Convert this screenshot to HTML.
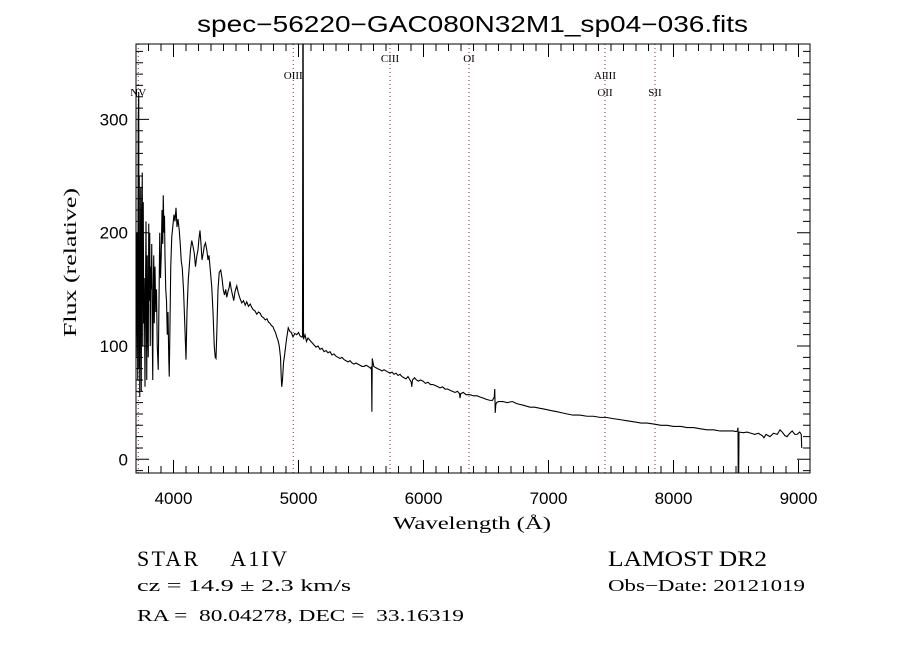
<!DOCTYPE html>
<html><head><meta charset="utf-8"><title>spec-56220-GAC080N32M1_sp04-036.fits</title>
<style>html,body{margin:0;padding:0;background:#fff;}svg{display:block;}</style></head>
<body>
<svg id="chart" width="900" height="650" viewBox="0 0 900 650" xmlns="http://www.w3.org/2000/svg">
<rect x="0" y="0" width="900" height="650" fill="#fff"/>
<defs><clipPath id="plotclip"><rect x="136" y="44" width="674" height="429"/></clipPath></defs>
<text x="197" y="32" font-family="Liberation Sans, sans-serif" font-size="23" textLength="551" lengthAdjust="spacingAndGlyphs">spec−56220−GAC080N32M1_sp04−036.fits</text>
<g id="lines"></g>
<g id="ticks"></g>
<path id="spec" fill="none" stroke="#000" stroke-width="1.1" stroke-linejoin="miter" clip-path="url(#plotclip)"/>
<rect x="136" y="44" width="674" height="429" fill="none" stroke="#000" stroke-width="1"/>
<g id="xlabels"></g>
<g id="ylabels"></g>
<text x="393" y="529" font-family="Liberation Serif, serif" font-size="18" textLength="158" lengthAdjust="spacingAndGlyphs">Wavelength (Å)</text>
<text transform="translate(76,337) rotate(-90)" font-family="Liberation Serif, serif" font-size="18" textLength="149" lengthAdjust="spacingAndGlyphs">Flux (relative)</text>
<text x="137" y="566" font-family="Liberation Serif, serif" font-size="22" textLength="150" lengthAdjust="spacing" xml:space="preserve">STAR    A1IV</text>
<text x="608" y="566" font-family="Liberation Serif, serif" font-size="22" textLength="159" lengthAdjust="spacingAndGlyphs">LAMOST DR2</text>
<text x="137" y="591" font-family="Liberation Serif, serif" font-size="17" textLength="214" lengthAdjust="spacingAndGlyphs">cz = 14.9 ± 2.3 km/s</text>
<text x="608" y="591" font-family="Liberation Serif, serif" font-size="17" textLength="197" lengthAdjust="spacingAndGlyphs">Obs−Date: 20121019</text>
<text x="137" y="621" font-family="Liberation Serif, serif" font-size="17" textLength="327" lengthAdjust="spacingAndGlyphs" xml:space="preserve">RA =  80.04278, DEC =  33.16319</text>
</svg>
<script>
const wavelengths = [
3702,3708,3714,3718,3722,3724,3726,3730,3734,3738,
3742,3746,3750,3754,3758,3762,3766,3772,3776,3780,
3786,3790,3794,3798,3802,3806,3810,3814,3818,3822,
3826,3830,3834,3838,3842,3846,3852,3858,3864,3870,
3878,3884,3890,3896,3902,3908,3914,3918,3924,3928,
3932,3938,3944,3950,3956,3962,3966,3972,3978,3986,
3994,4004,4012,4020,4028,4036,4046,4054,4062,4070,
4080,4090,4100,4108,4118,4126,4136,4146,4156,4166,
4176,4186,4196,4204,4212,4220,4228,4238,4246,4256,
4266,4276,4284,4292,4300,4306,4316,4326,4334,4340,
4346,4356,4366,4378,4388,4398,4408,4418,4426,4436,
4446,4452,4462,4472,4482,4492,4506,4518,4532,4546,
4560,4574,4586,4600,4614,4626,4638,4652,4666,4680,
4692,4706,4720,4734,4748,4760,4772,4784,4796,4806,
4816,4826,4836,4846,4856,4862,4866,4872,4880,4892,
4904,4918,4930,4942,4956,4970,4986,5000,5012,5024,
5032,5035,5037,5040,5052,5064,5076,5092,5108,5124,
5140,5156,5172,5188,5204,5220,5236,5252,5268,5284,
5300,5316,5332,5348,5364,5380,5396,5412,5428,5444,
5460,5476,5492,5508,5524,5540,5556,5570,5580,5584,
5587,5590,5602,5616,5632,5652,5668,5684,5700,5716,
5732,5748,5764,5780,5796,5812,5828,5844,5860,5876,
5892,5902,5906,5912,5928,5944,5960,5976,5996,6016,
6036,6056,6076,6096,6116,6132,6152,6172,6192,6212,
6232,6252,6272,6288,6292,6298,6318,6340,6372,6400,
6430,6452,6480,6500,6532,6552,6566,6570,6574,6578,
6584,6600,6636,6670,6710,6748,6790,6852,6890,6932,
6980,7020,7068,7110,7150,7196,7250,7308,7360,7412,
7460,7510,7572,7630,7690,7740,7788,7850,7900,7948,
8000,8060,8108,8160,8210,8268,8320,8372,8420,8476,
8500,8512,8516,8518,8521,8524,8560,8588,8620,8650,
8680,8692,8710,8724,8740,8772,8800,8830,8852,8870,
8890,8908,8930,8950,8970,8988,9010,9022,9026
];
const fluxes = [
90,200,70,300,324,80,250,55,140,240,
60,200,253,100,227,120,160,64,150,210,
70,180,120,90,208,140,200,100,170,150,
190,110,70,150,180,120,170,130,150,100,
79,140,200,160,180,220,190,233,200,215,
179,150,140,110,130,90,73,120,170,196,
205,216,210,222,205,212,202,190,175,169,
150,120,88,130,158,170,185,193,188,182,
170,179,185,195,202,190,176,182,188,191,
185,176,180,170,160,152,130,100,90,89,
110,150,165,167,160,150,145,150,143,148,
152,157,150,145,140,148,153,147,142,138,
140,136,139,135,137,134,132,131,128,130,
129,126,125,123,124,121,120,118,117,114,
112,108,105,100,90,72,64,70,85,95,
106,116,113,112,108,111,110,112,109,108,
108,400,400,106,110,104,107,105,103,101,
99,100,97,98,95,96,94,95,92,93,
91,90,89,90,88,87,86,87,85,84,
85,84,83,82,82,83,82,81,80,82,
42,89,82,81,80,79,78,79,78,77,
76,77,75,76,74,75,73,72,71,73,
70,68,64,70,72,70,69,70,69,67,
68,66,66,65,64,63,64,62,62,61,
60,59,60,58,54,58,59,57,57,56,
56,55,54,53,52,52,55,62,41,48,
50,51,51,50,51,49,48,46,46,45,
44,43,42,41,40,39,39,38,38,37,
37,36,35,34,33,32,32,31,30,30,
29,29,28,28,27,26,26,25,25,25,
24.5,25,28,-20,-20,24,23.5,24,23,22,
23,22,21,19,22,20,23,22,26,24,
21,20,23,25,22,22,24,22,10
];
const xTickValues = [4000,5000,6000,7000,8000,9000];
const xTickLabels = ["4000","5000","6000","7000","8000","9000"];
const yTickValues = [0,100,200,300];
const yTickLabels = ["0","100","200","300"];
const lineNames = ["NV","OIII","CIII","OI","AlIII","OII","SII"];
const lineWaves = [3718,4958,5732,6364,7452,7452,7852];
const labelRow = [2,1,0,0,1,2,2];

const NS = "http://www.w3.org/2000/svg";
const X0=136, X1=810, Y0=44, Y1=473;
function xScale(w){ return 173.5 + (w-4000)*0.125; }
function yScale(f){ return 459.3 - f*1.133; }
function mk(tag, attrs, parent){ const e=document.createElementNS(NS,tag); for(const k in attrs) e.setAttribute(k, attrs[k]); parent.appendChild(e); return e; }

let d="";
const n=Math.min(wavelengths.length, fluxes.length);
for(let i=0;i<n;i++){
  d += (i?"L":"M") + xScale(wavelengths[i]).toFixed(2) + " " + yScale(fluxes[i]).toFixed(2) + " ";
}
document.getElementById("spec").setAttribute("d", d);

const tg=document.getElementById("ticks");
let td="";
for(let w=3700; w<=9100; w+=100){
  const x=xScale(w); if(x<X0||x>X1) continue;
  const len = (w%1000===0)?13:7;
  td += `M${x} ${Y1}V${Y1-len}M${x} ${Y0}V${Y0+len}`;
}
for(let f=-10; f<=360; f+=10){
  const y=yScale(f); if(y<Y0||y>Y1) continue;
  const len = (f%100===0)?13:7;
  td += `M${X0} ${y}H${X0+len}M${X1} ${y}H${X1-len}`;
}
const tp=mk("path",{d:td,stroke:"#000","stroke-width":1,fill:"none"},tg);



const xl=document.getElementById("xlabels");
xTickValues.forEach((v,i)=>{
  const t=mk("text",{x:xScale(v),y:504,"text-anchor":"middle","font-family":"Liberation Sans, sans-serif","font-size":17},xl);
  t.textContent=xTickLabels[i];
  
  
});
const yl=document.getElementById("ylabels");
yTickValues.forEach((v,i)=>{
  const t=mk("text",{x:128,y:yScale(v)+6,"text-anchor":"end","font-family":"Liberation Sans, sans-serif","font-size":17},yl);
  t.textContent=yTickLabels[i];
  
  
});

const lg=document.getElementById("lines");
const rowY=[62,79,96];
lineNames.forEach((nm,i)=>{
  const x=xScale(lineWaves[i]);
  const l=mk("line",{x1:x,x2:x,y1:Y0,y2:Y1,stroke:"#8b2a2a","stroke-width":1,"stroke-dasharray":"1 3"},lg);
  
  
  const t=mk("text",{x:x,y:rowY[labelRow[i]],"text-anchor":"middle","font-family":"Liberation Serif, serif","font-size":11},lg);
  t.textContent=nm;
  
  
});
</script>
</body></html>
